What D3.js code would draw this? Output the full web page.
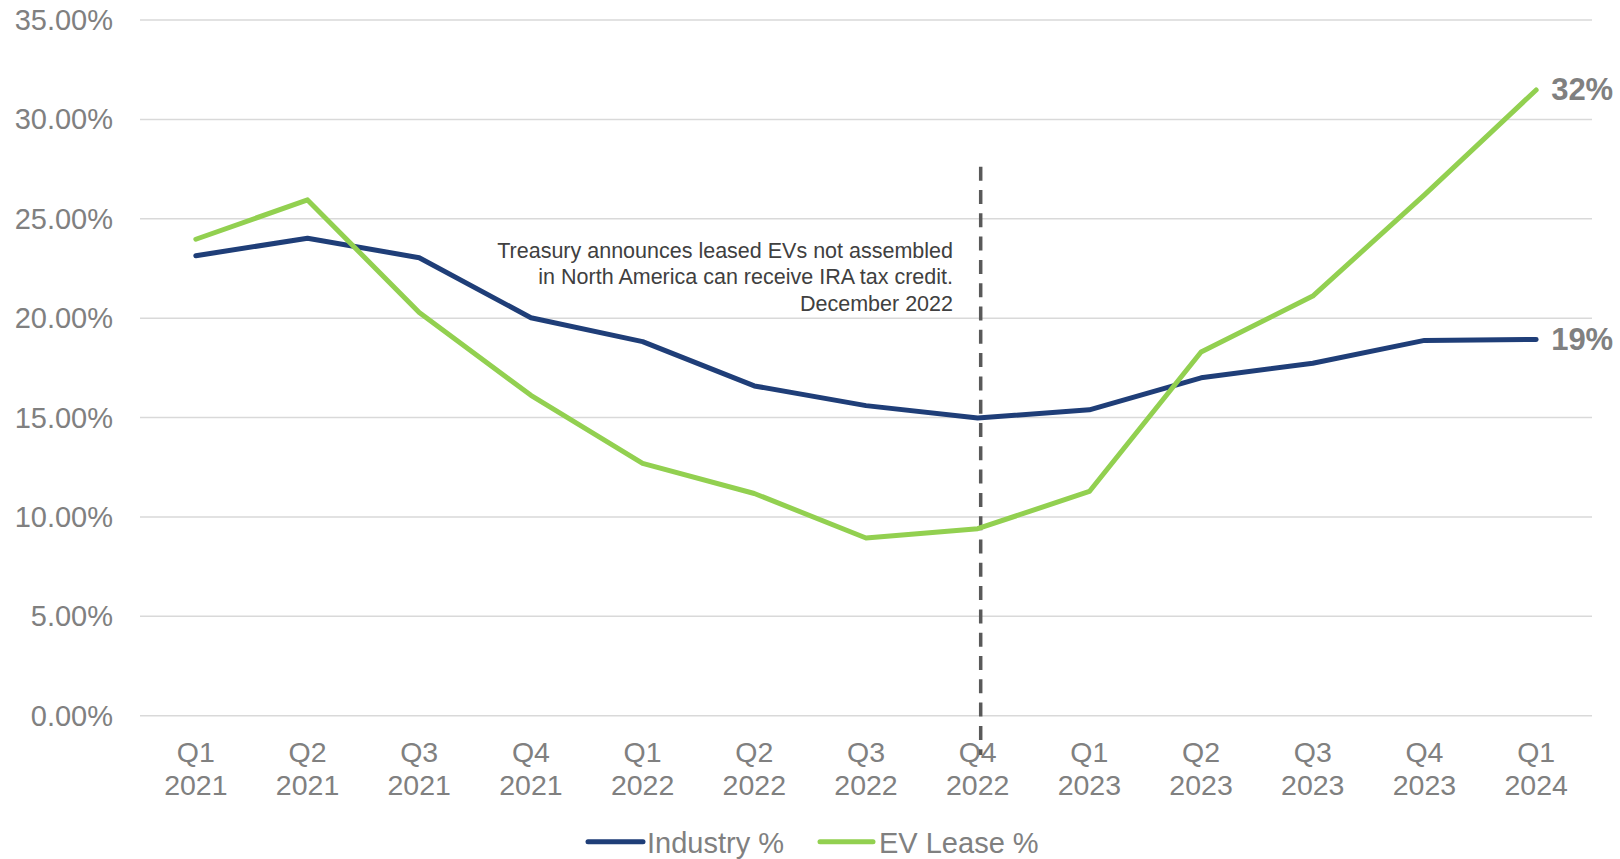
<!DOCTYPE html>
<html><head><meta charset="utf-8">
<script src="https://cdn.jsdelivr.net/npm/d3@7"></script>
<style>body{margin:0;background:#fff}svg{display:block}text{font-family:"Liberation Sans",Arial,sans-serif}</style>
</head><body><svg id="c" width="1620" height="859"></svg>
<script>
const quarters = ["Q1","Q2","Q3","Q4","Q1","Q2","Q3","Q4","Q1","Q2","Q3","Q4","Q1"];
const years = ["2021","2021","2021","2021","2022","2022","2022","2022","2023","2023","2023","2023","2024"];
const industry = [23.14,24.02,23.04,20.02,18.82,16.59,15.6,14.98,15.39,17.0,17.73,18.88,18.93];
const evLease = [23.97,25.95,20.28,16.12,12.69,11.18,8.94,9.41,11.28,18.3,21.11,26.2,31.48];
const yTicks = [0,5,10,15,20,25,30,35];
const seriesNames = ["Industry %","EV Lease %"];
const endLabels = ["19%","32%"];
const annotationLines = ["Treasury announces leased EVs not assembled","in North America can receive IRA tax credit.","December 2022"];
const annotationIndex = 7;

(function(){
const colors = ["#1f3e78","#92d050"];
const svg = d3.select("#c");
const mLeft = 140, mRight = 1592, mTop = 20, mBottom = 715.7;
const idx = d3.range(quarters.length);
const x = d3.scalePoint().domain(idx).range([mLeft, mRight]).padding(0.5);
const y = d3.scaleLinear().domain([0,35]).range([mBottom, mTop]);

svg.append("g").selectAll("line").data(yTicks).join("line")
  .attr("x1",mLeft).attr("x2",mRight).attr("y1",d=>y(d)).attr("y2",d=>y(d))
  .attr("stroke","#d9d9d9").attr("stroke-width",1.5);
svg.append("g").selectAll("text").data(yTicks).join("text")
  .attr("x",113).attr("y",d=>y(d)+10).attr("text-anchor","end")
  .attr("font-size",29).attr("fill","#808080").text(d=>d.toFixed(2)+"%");
const xl = svg.append("g").selectAll("text").data(idx).join("text")
  .attr("text-anchor","middle").attr("font-size",28.5).attr("fill","#808080");
xl.append("tspan").attr("x",d=>x(d)).attr("y",761.7).text(d=>quarters[d]);
xl.append("tspan").attr("x",d=>x(d)).attr("y",795).text(d=>years[d]);

svg.append("line").attr("x1",x(annotationIndex)+3).attr("x2",x(annotationIndex)+3)
  .attr("y1",166.7).attr("y2",755).attr("stroke","#595959").attr("stroke-width",3.5)
  .attr("stroke-dasharray","14,9.3");

const at = svg.append("text").attr("text-anchor","end").attr("font-size",21.5).attr("fill","#404040");
annotationLines.forEach((t,i)=>at.append("tspan").attr("x",953).attr("y",257.7+i*26.5).text(t));

const line = d3.line().x((d,i)=>x(i)).y(d=>y(d));
[industry, evLease].forEach((s,k)=>{
  svg.append("path").datum(s).attr("d",line).attr("fill","none")
    .attr("stroke",colors[k]).attr("stroke-width",5).attr("stroke-linecap","round").attr("stroke-linejoin","round");
});
[industry, evLease].forEach((s,k)=>{
  svg.append("text").attr("x",x(s.length-1)+15).attr("y",y(s[s.length-1])+10.5)
    .attr("font-size",31).attr("font-weight","bold").attr("fill","#808080").text(endLabels[k]);
});

const lg = [[588,643,647],[820,873,879]];
seriesNames.forEach((n,k)=>{
  svg.append("line").attr("x1",lg[k][0]).attr("x2",lg[k][1]).attr("y1",841.7).attr("y2",841.7)
    .attr("stroke",colors[k]).attr("stroke-width",5).attr("stroke-linecap","round");
  svg.append("text").attr("x",lg[k][2]).attr("y",852.5).attr("font-size",29).attr("fill","#808080").text(n);
});
})();
</script></body></html>
